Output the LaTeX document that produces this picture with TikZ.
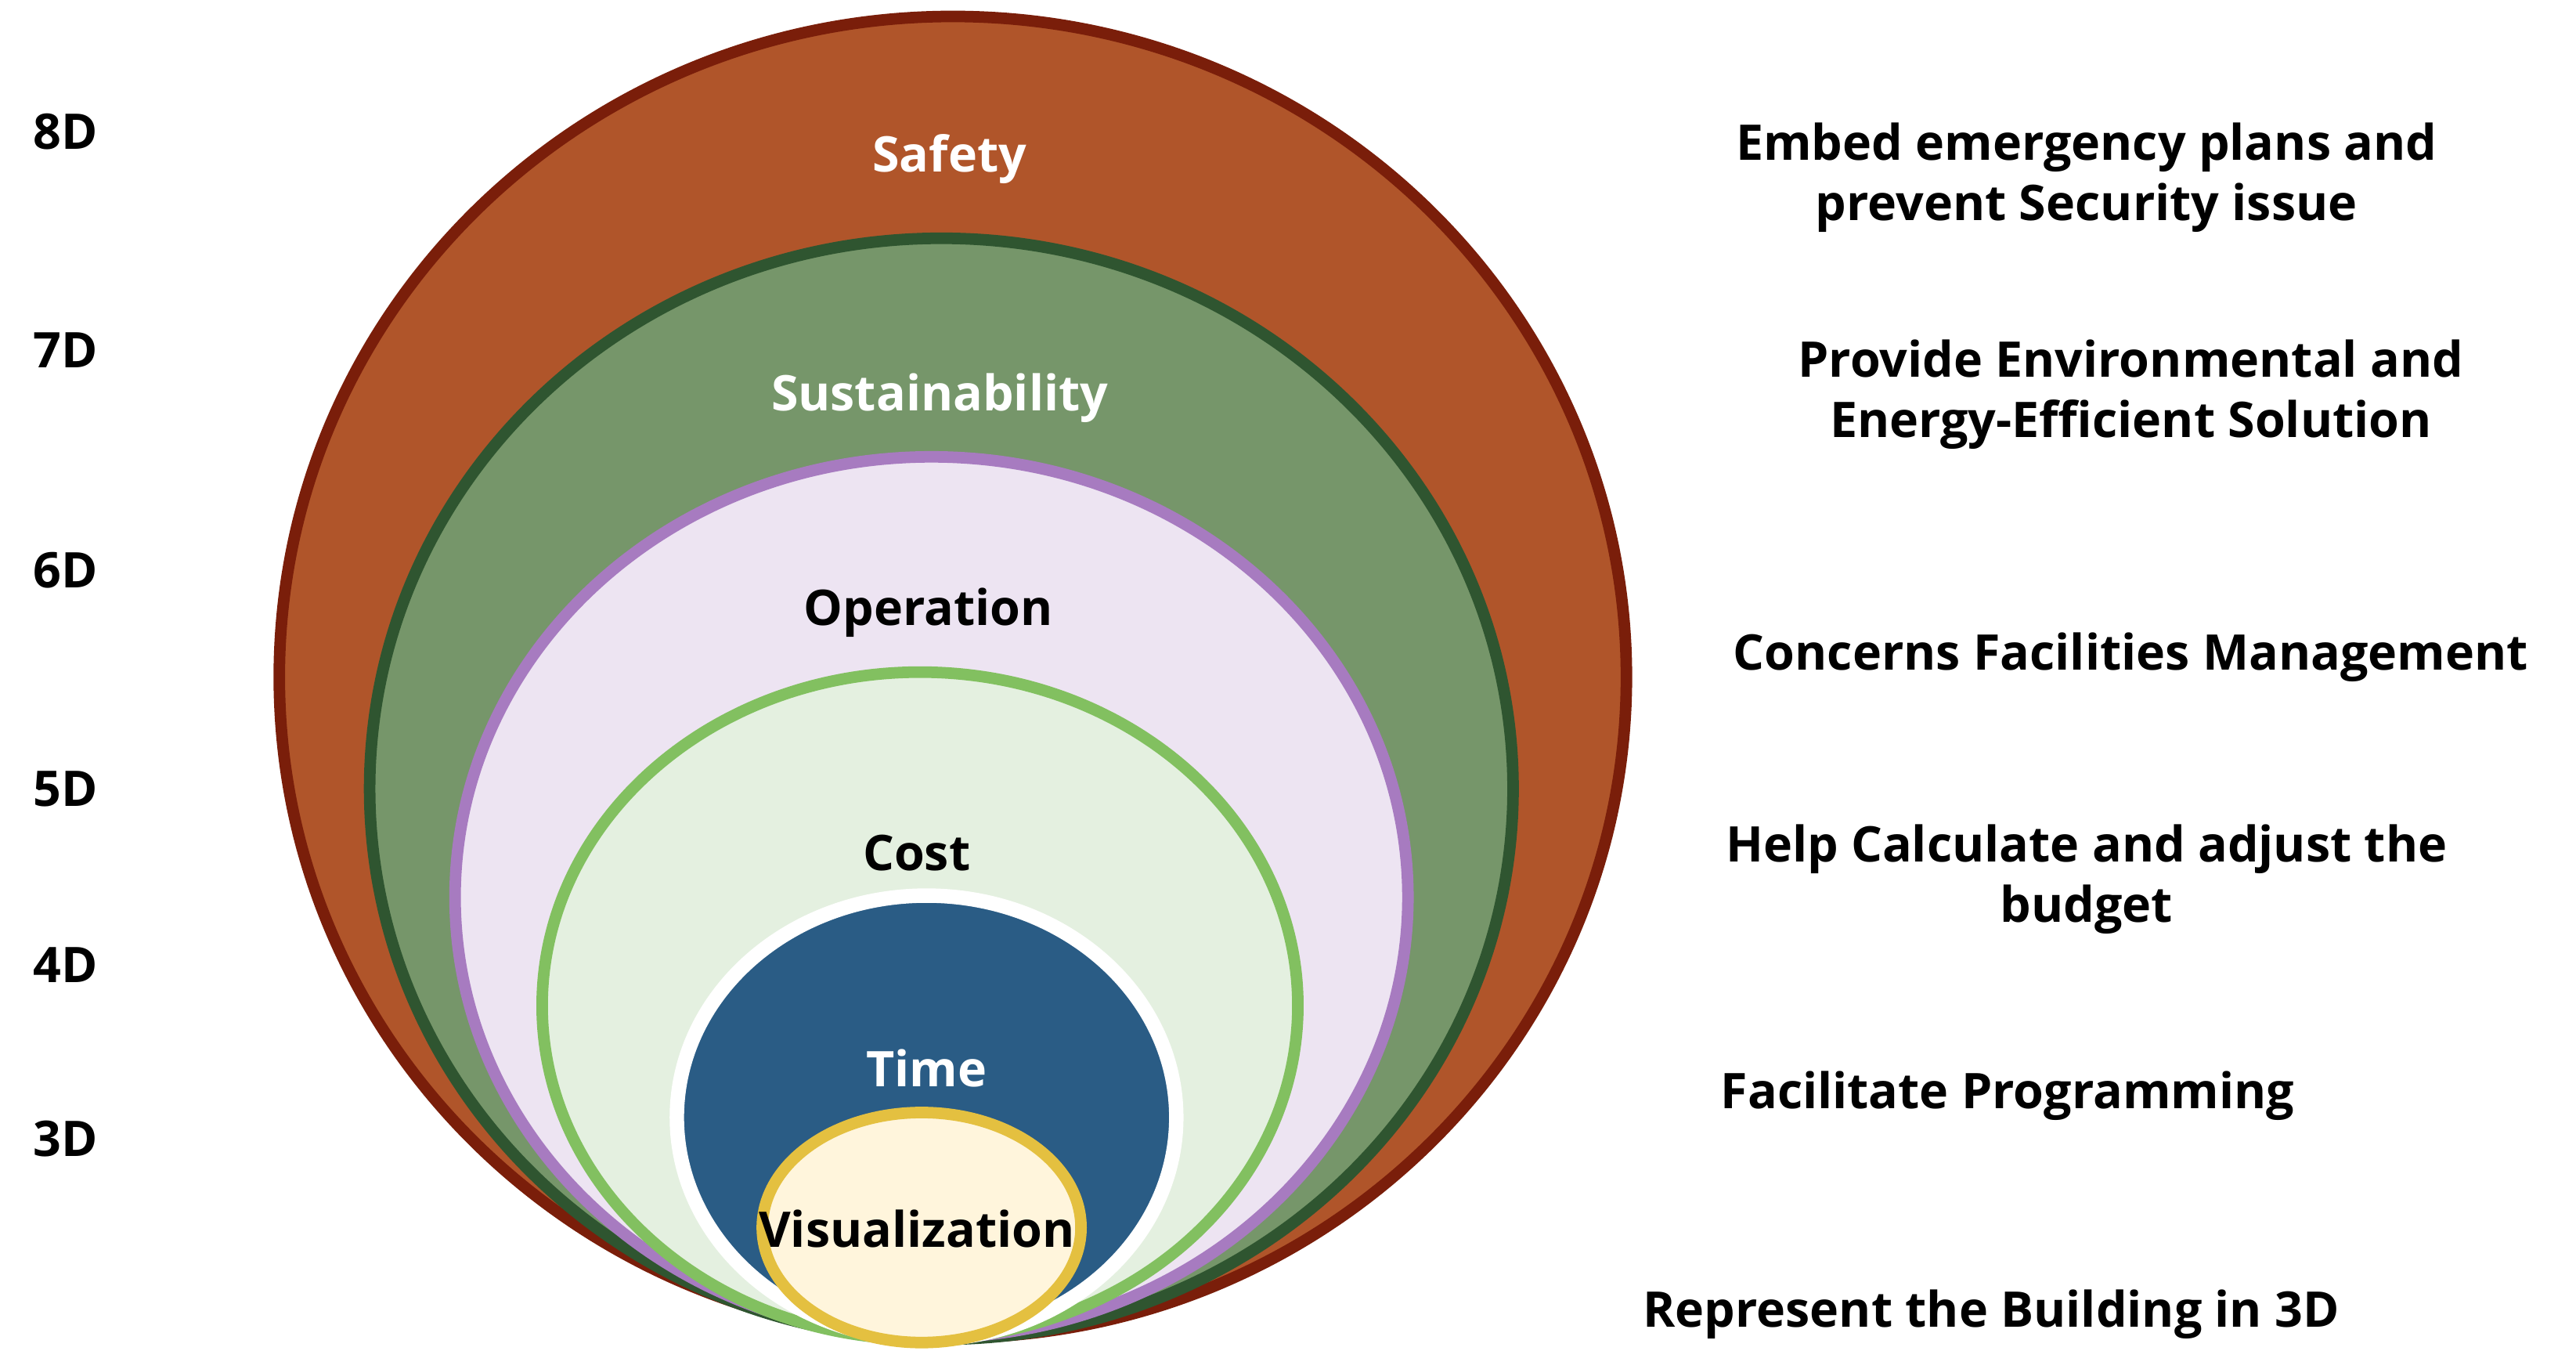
\documentclass[tikz,border=0pt]{standalone}
\usepackage{fontspec}
\setmainfont{Open Sans}
\begin{document}
\begin{tikzpicture}[x=0.01cm,y=-0.01cm,
 lab/.style={font=\fontsize{8.5}{10.5}\selectfont\bfseries},
 rt/.style={lab,align=center},
 ell/.style={ellipse,draw}]
\useasboundingbox (0,0) rectangle (1568,833);
\fill[white] (0,0) rectangle (1568,833);
\draw[fill={rgb,255:red,176;green,85;blue,42},draw={rgb,255:red,122;green,30;blue,10},line width=2pt] (580,412) ellipse [x radius=410,y radius=402];
\draw[fill={rgb,255:red,118;green,150;blue,106},draw={rgb,255:red,47;green,85;blue,48},line width=2pt] (573,480) ellipse [x radius=348,y radius=335];
\draw[fill={rgb,255:red,237;green,228;blue,242},draw={rgb,255:red,167;green,123;blue,192},line width=2pt] (567,546) ellipse [x radius=290,y radius=268];
\draw[fill={rgb,255:red,228;green,240;blue,224},draw={rgb,255:red,130;green,192;blue,96},line width=2pt] (560,612) ellipse [x radius=230,y radius=203];
\draw[fill={rgb,255:red,42;green,92;blue,133},draw=white,line width=2.5pt] (564,680) ellipse [x radius=152,y radius=135];
\draw[fill={rgb,255:red,255;green,245;blue,220},draw={rgb,255:red,228;green,192;blue,64},line width=2pt] (561,747) ellipse [x radius=97,y radius=70];
\node[lab,white] (s) at (578,97) {Safety};
\node[lab,white] (su) at (572,242) {Sustainability};
\node[lab] (o) at (565,373) {Operation};
\node[lab] (c) at (558,519) {Cost};
\node[lab,white] (t) at (564,650) {Time};
\node[lab] (v) at (558,748) {Visualization};
\node[lab] (d8) at (40,80) {8D};
\node[lab] (d7) at (40,213) {7D};
\node[lab] (d6) at (40,347) {6D};
\node[lab] (d5) at (40,480) {5D};
\node[lab] (d4) at (40,587) {4D};
\node[lab] (d3) at (40,693) {3D};
\node[rt] (r8) at (1270,108) {Embed emergency plans and\\prevent Security issue};
\node[rt] (r7) at (1297,240) {Provide Environmental and\\Energy-Efficient Solution};
\node[rt] (r6) at (1297,400) {Concerns Facilities Management};
\node[rt] (r5) at (1270,535) {Help Calculate and adjust the\\budget};
\node[lab,anchor=west] (r4) at (1035,667) {Facilitate Programming};
\node[lab] (r3) at (1212,800) {Represent the Building in 3D};
\end{tikzpicture}
\end{document}
